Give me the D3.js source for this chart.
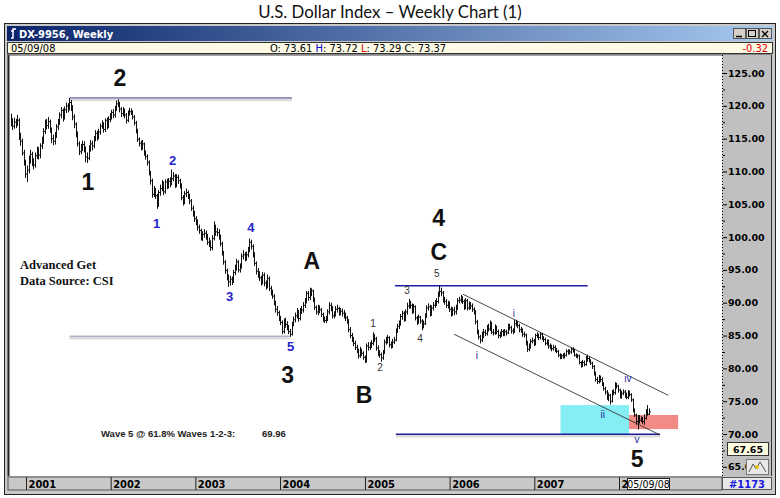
<!DOCTYPE html>
<html><head><meta charset="utf-8">
<script src="https://cdn.jsdelivr.net/npm/d3@7"></script>
<style>body{margin:0;background:#fff;}svg{display:block}</style>
</head><body>
<svg id="c" width="780" height="498"></svg>
<script>
// ---------------- DATA ----------------
const firstWeek = "2000-10-27"; // weekly bars, one per Friday
const close = [
 117.6,116.9,117.5,117.2,117.8,115.2,114.6,112.8,111.4,109.6,
 110.2,111.8,112.6,111.3,111.0,112.4,113.2,112.5,113.9,114.7,116.1,117.4,117.0,117.6,116.4,115.0,114.6,115.5,116.8,117.5,118.6,119.3,118.2,119.4,120.0,119.6,120.5,119.8,118.3,117.2,115.8,114.2,113.0,113.6,114.1,113.4,112.2,112.0,113.5,114.2,113.9,115.0,115.8,115.2,116.0,116.9,117.2,116.4,117.8,116.9,117.9,118.4,
 119.0,118.6,119.6,120.3,120.4,119.5,118.8,119.3,118.6,117.8,118.9,119.1,119.0,118.3,117.4,116.2,114.9,114.3,113.7,114.2,112.8,112.3,111.4,109.8,108.6,106.5,107.2,106.3,104.9,106.8,107.4,108.2,106.9,108.4,107.8,108.5,108.1,108.9,109.3,108.0,109.1,108.6,107.9,106.0,105.3,106.6,106.8,106.3,105.5,104.4,103.6,102.8,
 102.3,101.5,101.0,99.9,100.4,100.6,100.1,99.2,99.0,98.4,99.8,101.6,100.8,100.7,100.1,99.0,97.6,96.2,94.9,93.9,93.2,93.6,93.3,94.6,95.3,96.2,95.0,95.5,97.1,97.3,96.8,97.3,98.0,99.2,98.6,97.4,96.0,94.8,94.4,93.8,93.1,94.2,93.0,92.5,93.7,92.2,91.6,91.0,90.0,89.0,88.5,87.6,
 87.0,85.6,87.2,86.7,86.3,85.6,85.2,86.8,87.4,88.0,88.6,87.6,88.8,88.9,89.6,90.2,91.4,90.8,91.6,91.8,90.5,89.3,88.6,89.2,88.9,88.2,87.5,87.3,87.4,88.6,89.6,89.3,88.0,88.2,89.0,89.1,88.5,88.7,88.4,88.1,87.7,87.2,85.9,85.0,84.5,83.8,83.2,82.7,81.9,82.8,82.3,81.7,81.1,
 83.4,83.2,83.5,83.8,84.7,84.5,83.1,82.3,82.1,81.6,82.4,84.0,84.2,84.7,83.6,83.5,84.0,84.3,85.8,86.4,86.8,87.9,88.4,87.5,88.6,89.5,89.9,89.6,88.7,89.4,87.7,87.0,87.8,87.2,86.5,86.8,88.0,89.2,89.4,88.3,89.2,89.6,89.9,90.2,91.2,91.7,91.5,90.4,90.2,89.6,89.8,89.0,
 88.4,88.9,88.6,89.2,90.3,90.4,90.6,90.2,89.3,90.3,89.2,89.7,89.5,89.0,88.6,87.1,85.6,84.8,84.3,85.0,85.5,85.3,86.2,86.0,86.9,85.5,85.4,86.2,85.6,85.0,85.1,85.6,85.2,85.6,85.4,86.4,86.2,85.7,85.6,86.8,86.9,86.5,85.9,85.8,85.2,85.1,83.9,82.9,83.3,84.1,84.2,83.7,
 85.0,85.0,84.7,85.2,84.6,84.4,83.8,84.0,83.4,83.3,83.0,83.2,82.9,82.6,82.0,81.7,81.9,81.8,82.0,82.6,82.4,82.5,82.9,82.8,82.0,81.9,81.9,80.9,80.4,80.9,80.6,81.4,81.5,81.2,80.8,80.3,79.3,78.3,78.0,78.6,78.3,77.7,76.9,76.4,75.5,75.9,75.0,76.3,76.3,77.5,77.3,76.7,
 75.8,76.2,76.4,75.9,75.6,76.3,76.0,75.2,73.6,72.9,71.9,72.6,72.1,72.2,71.9,72.4,73.4,73.0,73.37
];
const high = [
 118.8,118.1,118.2,118.0,118.6,118.1,115.9,115.0,113.3,111.8,
 110.9,112.4,113.3,113.0,112.0,112.9,113.8,113.7,114.3,115.3,116.6,117.9,118.0,118.3,117.9,116.7,115.6,116.0,117.2,118.0,119.0,119.8,119.6,119.9,120.5,120.4,121.2,120.9,120.1,118.7,117.5,116.1,114.6,114.2,114.7,114.6,113.8,112.9,114.0,114.8,114.7,115.4,116.3,116.2,116.5,117.3,117.8,117.5,118.1,118.2,118.4,118.9,
 119.4,119.5,120.0,120.8,121.0,120.6,119.8,119.8,119.6,118.9,119.3,119.7,119.6,119.3,118.6,117.7,116.5,115.2,114.7,114.8,114.4,113.2,112.6,111.7,110.1,108.9,107.8,107.5,106.6,107.2,108.0,108.7,108.5,108.8,108.9,109.0,109.1,110.3,109.9,109.6,109.6,109.5,108.9,108.2,106.4,107.0,107.4,107.1,106.6,105.8,104.8,104.0,
 103.2,102.7,101.9,101.3,100.9,101.2,101.0,100.5,99.9,99.5,100.3,102.4,101.9,101.4,101.2,100.4,99.3,97.9,96.5,95.2,94.3,94.1,94.0,95.0,95.8,96.7,96.5,96.0,97.5,98.0,97.7,97.8,98.5,99.8,99.6,98.9,97.7,96.3,95.3,94.8,94.1,94.7,94.6,93.4,94.3,94.0,92.6,92.0,91.3,90.3,89.5,88.8,
 88.0,87.3,87.6,87.7,87.2,86.6,86.0,87.1,87.9,88.5,89.2,88.9,89.2,89.5,90.1,90.7,91.8,91.8,92.3,92.2,92.0,90.8,89.6,89.7,89.6,89.2,88.5,87.9,88.0,89.0,90.1,90.0,89.5,88.7,89.5,89.7,89.4,89.2,89.1,88.9,88.5,88.0,87.5,86.3,85.4,84.8,84.2,83.6,83.0,83.3,83.0,82.6,82.0,
 83.8,84.0,84.0,84.3,85.5,85.2,84.8,83.5,82.8,82.4,82.8,84.4,84.8,85.1,84.9,84.1,84.5,84.8,86.1,86.8,87.3,88.3,88.8,88.7,89.0,90.0,90.6,90.3,89.9,89.8,89.6,88.0,88.2,88.0,87.5,87.3,88.4,89.6,89.9,89.7,89.6,90.1,90.4,90.7,91.7,92.6,92.3,91.8,90.9,90.6,90.3,90.2,
 89.4,89.3,89.4,89.7,90.7,90.9,91.2,91.0,90.5,90.7,90.6,90.2,90.1,89.9,89.3,88.9,87.4,85.9,85.1,85.6,86.0,85.9,86.6,86.8,87.3,87.1,86.0,86.7,86.5,85.9,85.6,86.0,85.9,86.0,85.9,86.8,86.8,86.5,86.1,87.4,87.4,87.2,86.8,86.3,86.1,85.6,85.3,84.2,83.8,84.5,84.7,84.5,
 85.3,85.5,85.3,85.5,85.4,84.9,84.7,84.4,84.4,83.8,83.6,83.6,83.5,83.1,82.8,82.3,82.2,82.3,82.4,82.9,82.9,82.9,83.2,83.2,83.0,82.3,82.2,82.1,81.1,81.3,81.2,81.9,82.1,81.8,81.4,81.0,80.5,79.5,78.7,79.0,78.9,78.6,77.9,77.2,76.7,76.3,76.1,76.7,76.8,77.9,77.8,77.5,
 76.9,76.6,76.8,76.7,76.3,76.7,76.6,76.2,75.4,73.9,73.1,72.9,72.9,72.7,72.6,73.0,73.8,74.4,73.9
];
const low = [
 116.9,116.3,116.5,116.6,116.9,114.8,113.9,112.4,110.9,109.0,
 108.4,109.7,111.2,110.8,110.3,110.6,111.9,111.8,112.0,113.4,114.2,115.7,116.4,116.5,115.9,114.3,114.0,114.1,115.1,116.3,117.1,118.1,117.6,117.9,118.9,119.0,119.3,119.2,117.8,116.6,115.2,113.8,112.5,112.6,113.1,112.9,111.4,111.3,111.7,113.0,113.2,113.5,114.6,114.7,114.9,115.6,116.5,115.9,116.0,116.4,116.6,117.5,
 117.9,118.1,118.2,119.2,119.8,119.0,118.3,118.4,118.1,117.3,117.5,118.5,118.6,117.9,117.0,115.8,114.5,113.8,113.2,113.3,112.4,111.8,110.9,109.4,108.0,106.0,106.1,105.8,104.3,104.6,106.3,107.0,106.4,106.6,107.3,107.4,107.6,107.9,108.5,107.5,107.6,108.1,107.4,105.6,104.8,105.0,106.1,105.8,105.0,104.0,103.1,102.3,
 101.8,101.0,100.5,99.5,99.4,99.9,99.6,98.8,98.5,97.9,98.0,99.5,100.2,100.1,99.6,98.6,97.2,95.8,94.4,93.4,92.4,92.6,92.7,93.0,94.2,94.9,94.6,94.6,95.2,96.6,96.3,96.4,96.9,97.7,98.1,96.9,95.6,94.3,93.8,93.3,92.6,92.8,92.5,92.0,92.2,91.8,91.1,90.6,89.6,88.5,88.0,87.2,
 86.6,85.2,85.3,86.2,85.8,85.2,84.8,85.0,86.4,87.0,87.6,87.1,87.3,88.3,88.5,89.2,89.9,90.3,90.4,91.0,90.1,88.9,88.2,88.1,88.4,87.8,87.1,86.9,86.9,87.2,88.2,88.7,87.6,87.6,87.9,88.5,88.0,88.1,87.9,87.6,87.2,86.8,85.5,84.6,84.0,83.4,82.8,82.3,81.5,81.6,81.9,81.3,80.8,
 80.9,82.7,82.8,83.1,83.5,84.0,82.7,81.9,81.6,81.0,81.3,82.2,83.6,83.8,83.2,83.0,83.1,83.7,84.1,85.4,86.0,86.5,87.4,87.1,87.2,88.2,89.1,89.1,88.3,88.4,87.3,86.6,86.8,86.8,85.8,86.1,86.6,87.7,88.8,87.9,88.0,88.8,89.2,89.5,89.9,90.9,91.0,90.0,89.7,89.2,89.1,88.6,
 87.9,88.0,88.1,88.2,88.9,89.9,90.0,89.8,88.9,89.0,88.8,88.9,89.0,88.6,88.2,86.7,85.2,84.4,83.8,84.0,84.6,84.9,85.0,85.6,85.7,85.2,85.0,85.1,85.2,84.6,84.6,84.8,84.9,84.9,85.0,85.2,85.8,85.3,85.2,85.4,86.4,86.1,85.5,85.4,84.8,84.7,83.5,82.5,82.6,83.0,83.8,83.4,
 83.5,84.6,84.3,84.4,84.3,84.0,83.5,83.5,83.0,82.9,82.6,82.7,82.5,82.3,81.7,81.4,81.4,81.5,81.5,81.8,82.1,82.1,82.2,82.4,81.8,81.6,81.5,80.6,80.1,80.2,80.3,80.4,81.0,80.9,80.5,79.9,78.9,78.0,77.6,77.7,77.9,77.3,76.6,76.0,75.2,75.0,74.5,74.8,75.9,76.0,76.9,76.3,
 75.4,75.4,75.9,75.5,75.3,75.3,75.7,74.9,73.3,72.6,71.4,70.7,71.6,71.8,71.5,71.4,72.2,72.8,72.9
];
const yTicks = [125,120,115,110,105,100,95,90,85,80,75,70,65];
const yMinorTicks = [122.5,117.5,112.5,107.5,102.5,97.5,92.5,87.5,82.5,77.5,72.5,67.5];
const yearTicks = ["2001","2002","2003","2004","2005","2006","2007","2008"];
const yearLabels = ["2001","2002","2003","2004","2005","2006","2007","2"]; // 2008 label is hidden behind the date box
const lastDate = "05/09/08";
const lastOHLC = {O:"73.61", H:"73.72", L:"73.29", C:"73.37"};
const netChange = "-0.32";
const cursorValue = "67.65";
const barCount = "#1173";
const chartTitle = "U.S. Dollar Index \u2013 Weekly Chart (1)";
const windowTitle = "DX-9956, Weekly";

// annotation data (date, price)
const bigLabels = [["2","2002-02-10",124.2],["1","2001-09-25",108.4],["A","2004-05-17",96.4],["3","2004-02-03",79.0],
                   ["B","2004-12-28",75.9],["4","2005-11-15",102.9],["C","2005-11-15",97.7],["5","2008-03-19",66.2]];
const blueWaveLabels = [["1","2002-07-18",102.1],["2","2002-09-25",111.6],["3","2003-05-29",90.9],["4","2003-08-28",101.5],["5","2004-02-16",83.4]];
const minorLabels = [["1","2005-02-05",86.9],["2","2005-03-07",80.2],["3","2005-07-01",91.8],["4","2005-08-26",84.6],["5","2005-11-07",94.4]];
const romanLabels = [["i","2006-04-28",82.0],["i","2006-10-05",88.4],["iv","2008-02-08",78.4],["ii","2007-10-23",72.9],["v","2008-03-19",69.2]];
const wave2Level = [["2001-07-08",121.2],["2004-02-21",121.2]];
const wave3Level = [["2001-07-08",84.9],["2004-02-12",84.9]];
const wave4Top = [["2005-05-10",92.6],["2007-08-19",92.6]];
const wave5Target = [["2005-05-14",69.96],["2008-06-26",69.96]];
const channelUpper = [["2006-02-27",91.3],["2008-07-31",75.9]];
const channelLower = [["2006-01-20",85.2],["2008-06-26",69.85]];
const cyanZone = [["2007-04-24",74.4],["2008-02-13",69.55]];
const redZone = [["2008-02-13",72.9],["2008-09-12",70.75]];
const targetText = "Wave 5 @ 61.8% Waves 1-2-3:";

// ---------------- DRAW ----------------
const parse = d3.timeParse("%Y-%m-%d");
const svg = d3.select("#c");
const x = d3.scaleTime().domain([new Date(2001,0,1), new Date(2008,0,1)]).range([26,619]);
const y = d3.scaleLinear().domain([70,125]).range([434,73]);
const plot = {l:8, t:55, r:722, b:476};

// chart title
svg.append("text").attr("x",390).attr("y",18).attr("text-anchor","middle")
  .style("font-family","Lato, 'Open Sans', sans-serif").style("font-size","16.8px").style("fill","#111")
  .text(chartTitle);

// window frame
svg.append("rect").attr("x",4.5).attr("y",23.5).attr("width",771).attr("height",471).attr("fill","#c8c8c8").attr("stroke","#222");
const defs = svg.append("defs");
const grad = defs.append("linearGradient").attr("id","tb");
grad.append("stop").attr("offset","0").attr("stop-color","#0a246a");
grad.append("stop").attr("offset","1").attr("stop-color","#a6caf0");
svg.append("rect").attr("x",7).attr("y",26).attr("width",766).attr("height",15).attr("fill","url(#tb)");
svg.append("path").attr("d","M11,38 L13,38 L13,29 L16,29 M11,31 L14,31").attr("stroke","#fff").attr("stroke-width",1.5).attr("fill","none");
svg.append("text").attr("x",19).attr("y",37.5).style("font-family","'Liberation Sans Narrow','DejaVu Sans Condensed',sans-serif")
  .style("font-size","11px").style("font-weight","bold").style("fill","#fff").text(windowTitle);
// window buttons
[733,746,759].forEach((bx,i)=>{
  svg.append("rect").attr("x",bx+0.5).attr("y",28.5).attr("width",12).attr("height",10).attr("fill","#d4d0c8").attr("stroke","#555");
});
svg.append("path").attr("d","M736,36.5 H742").attr("stroke","#000").attr("stroke-width",1.5);
svg.append("rect").attr("x",748.5).attr("y",30.5).attr("width",7).attr("height",6).attr("fill","none").attr("stroke","#000");
svg.append("path").attr("d","M762,31 L768,37 M768,31 L762,37").attr("stroke","#000").attr("stroke-width",1.3);

// info bar
svg.append("rect").attr("x",7.5).attr("y",42.5).attr("width",765).attr("height",11).attr("fill","#fdfbe6").attr("stroke","#333");
const infoFont = "'Liberation Sans Narrow','DejaVu Sans Condensed',sans-serif";
const info = svg.append("text").attr("y",51.5).style("font-family",infoFont).style("font-size","11px");
info.append("tspan").attr("x",11).text(lastDate);
const info2 = svg.append("text").attr("x",270).attr("y",51.5).style("font-family",infoFont).style("font-size","11px");
info2.append("tspan").text("O: "+lastOHLC.O+"  ");
info2.append("tspan").style("fill","#0000e0").text("H");
info2.append("tspan").text(": "+lastOHLC.H+"  ");
info2.append("tspan").style("fill","#e00000").text("L");
info2.append("tspan").text(": "+lastOHLC.L+"  ");
info2.append("tspan").text("C: "+lastOHLC.C);
svg.append("text").attr("x",768).attr("y",51.5).attr("text-anchor","end").style("font-family",infoFont)
  .style("font-size","11px").style("fill","#e00000").text(netChange);

// plot area
svg.append("rect").attr("x",plot.l).attr("y",plot.t).attr("width",plot.r-plot.l).attr("height",plot.b-plot.t).attr("fill","#fff");
svg.append("line").attr("x1",8.5).attr("x2",8.5).attr("y1",55).attr("y2",476).attr("stroke","#222").attr("stroke-width",2);
svg.append("line").attr("x1",7).attr("x2",772).attr("y1",55).attr("y2",55).attr("stroke","#444");

// right axis panel
svg.append("rect").attr("x",722).attr("y",55).attr("width",50).attr("height",421).attr("fill","#c0c0c0");
svg.append("line").attr("x1",722.5).attr("x2",722.5).attr("y1",55).attr("y2",476).attr("stroke","#000").attr("stroke-dasharray","1,2");
svg.append("line").attr("x1",771.5).attr("x2",771.5).attr("y1",55).attr("y2",476).attr("stroke","#333");

const ax = svg.append("g").attr("transform","translate(723,0)")
  .call(d3.axisRight(y).tickValues(yTicks).tickSize(4).tickPadding(1).tickFormat(d3.format(".2f")));
ax.select(".domain").remove();
ax.selectAll("line").attr("stroke","#000");
ax.selectAll("text").style("font-family","'DejaVu Sans',sans-serif").style("font-weight","bold").style("font-size","9.5px").attr("fill","#000");
const axm = svg.append("g").attr("transform","translate(723,0)")
  .call(d3.axisRight(y).tickValues(yMinorTicks).tickSize(2).tickFormat(""));
axm.select(".domain").remove();
axm.selectAll("line").attr("stroke","#000");

// cursor readout box
svg.append("rect").attr("x",727.5).attr("y",442.5).attr("width",41).attr("height",13).attr("fill","#fdfbe0").attr("stroke","#333");
svg.append("text").attr("x",748).attr("y",453).attr("text-anchor","middle").style("font-family","'DejaVu Sans',sans-serif")
  .style("font-weight","bold").style("font-size","9.5px").text(cursorValue);
// small icon box
svg.append("rect").attr("x",746.5).attr("y",459.5).attr("width",22).attr("height",15).attr("fill","#e8e8e8").attr("stroke","#777");
svg.append("path").attr("d","M749,472 L753,464 L756,469 L760,462 L766,472").attr("stroke","#555").attr("fill","none");
svg.append("circle").attr("cx",757).attr("cy",467).attr("r",2).attr("fill","#e0c000");

// bottom axis bar
svg.append("rect").attr("x",8).attr("y",477).attr("width",714).attr("height",13).attr("fill","#c8c8c8").attr("stroke","#555");
const bx = svg.append("g").attr("transform","translate(0,477)")
  .call(d3.axisBottom(x).tickValues(yearTicks.map(s=>new Date(+s,0,1))).tickSize(13).tickFormat((d,i)=>yearLabels[i]));
bx.select(".domain").remove();
bx.selectAll("line").attr("stroke","#222");
bx.selectAll("text").attr("text-anchor","start").attr("x",2).attr("y",3).attr("dy","0.71em")
  .style("font-family",infoFont).style("font-weight","bold").style("font-size","11px").attr("fill","#000");
// last-date box
svg.append("rect").attr("x",627.5).attr("y",478.5).attr("width",42).attr("height",11).attr("fill","#fff").attr("stroke","#222");
svg.append("text").attr("x",648.5).attr("y",487.5).attr("text-anchor","middle").style("font-family",infoFont)
  .style("font-size","10.5px").text(lastDate);
svg.append("rect").attr("x",722.5).attr("y",477.5).attr("width",49).attr("height",12).attr("fill","#e8e8e8").attr("stroke","#555");
svg.append("text").attr("x",747).attr("y",487.5).attr("text-anchor","middle").style("font-family",infoFont)
  .style("font-size","11px").style("font-weight","bold").style("fill","#1a1ae0").text(barCount);

// clip
defs.append("clipPath").attr("id","pc").append("rect").attr("x",10).attr("y",56).attr("width",712).attr("height",420);
const g = svg.append("g").attr("clip-path","url(#pc)");

const P = p => [x(parse(p[0])), y(p[1])];
// zones
[[cyanZone,"#84eef4"],[redZone,"#f28a86"]].forEach(([z,c])=>{
  const a=P(z[0]), b=P(z[1]);
  g.append("rect").attr("x",a[0]).attr("y",a[1]).attr("width",b[0]-a[0]).attr("height",b[1]-a[1]).attr("fill",c);
});
// level lines
function level(pts, color, w, shadow){
  const a=P(pts[0]), b=P(pts[1]);
  if (shadow) g.append("line").attr("x1",a[0]).attr("x2",b[0]).attr("y1",a[1]+2).attr("y2",b[1]+2).attr("stroke","#dcdcdc").attr("stroke-width",2.5);
  g.append("line").attr("x1",a[0]).attr("x2",b[0]).attr("y1",a[1]).attr("y2",b[1]).attr("stroke",color).attr("stroke-width",w);
}
level(wave2Level,"#3a3a8c",1,true);
level(wave3Level,"#8a8ab4",1,true);
level(wave4Top,"#1e1ea8",1.5,false);
level(wave5Target,"#1e1e98",1.3,true);
level(channelUpper,"#333",0.9,false);
level(channelLower,"#333",0.9,false);

// bars
const start = parse(firstWeek);
const n = Math.min(close.length, high.length, low.length);
const bars = d3.range(n).map(i=>({d:d3.timeDay.offset(start,7*i), h:high[i], l:low[i], c:close[i]}));
const bg = g.append("g");
bg.selectAll("path").data(bars).join("path")
  .attr("d", b=>{ const bxp=Math.round(x(b.d))+0.5; return `M${bxp},${y(b.h)}V${y(b.l)}M${bxp},${y(b.c)}H${bxp+1.5}`; })
  .attr("stroke","#111").attr("stroke-width",1).attr("fill","none");

// labels
function labels(arr, size, weight, color, family){
  g.selectAll(null).data(arr).join("text")
    .attr("x",d=>x(parse(d[1]))).attr("y",d=>y(d[2])).attr("text-anchor","middle").attr("dominant-baseline","central")
    .style("font-family",family).style("font-size",size+"px").style("font-weight",weight).style("fill",color).text(d=>d[0]);
}
labels(bigLabels,23,"bold","#111","'Liberation Sans',Arial,sans-serif");
labels(blueWaveLabels,13,"bold","#2424c8","'Liberation Sans',Arial,sans-serif");
labels(minorLabels,10,"normal","#333","'Liberation Sans',Arial,sans-serif");
labels(romanLabels,10,"normal","#2a2aa0","'Liberation Sans',Arial,sans-serif");

// source text
const src = g.append("text").style("font-family","'Liberation Serif','Times New Roman',serif").style("font-weight","bold").style("font-size","12.5px").style("fill","#111");
src.append("tspan").attr("x",20).attr("y",269).text("Advanced Get");
src.append("tspan").attr("x",20).attr("y",285).text("Data Source: CSI");
// target text
g.append("text").attr("x",101).attr("y",437).style("font-family","'Liberation Sans',Arial,sans-serif").style("font-weight","bold")
  .style("font-size","9.5px").style("fill","#222").text(targetText);
g.append("text").attr("x",262).attr("y",437).style("font-family","'Liberation Sans',Arial,sans-serif").style("font-weight","bold")
  .style("font-size","9.5px").style("fill","#222").text(d3.format(".2f")(wave5Target[0][1]));
</script>
</body></html>
